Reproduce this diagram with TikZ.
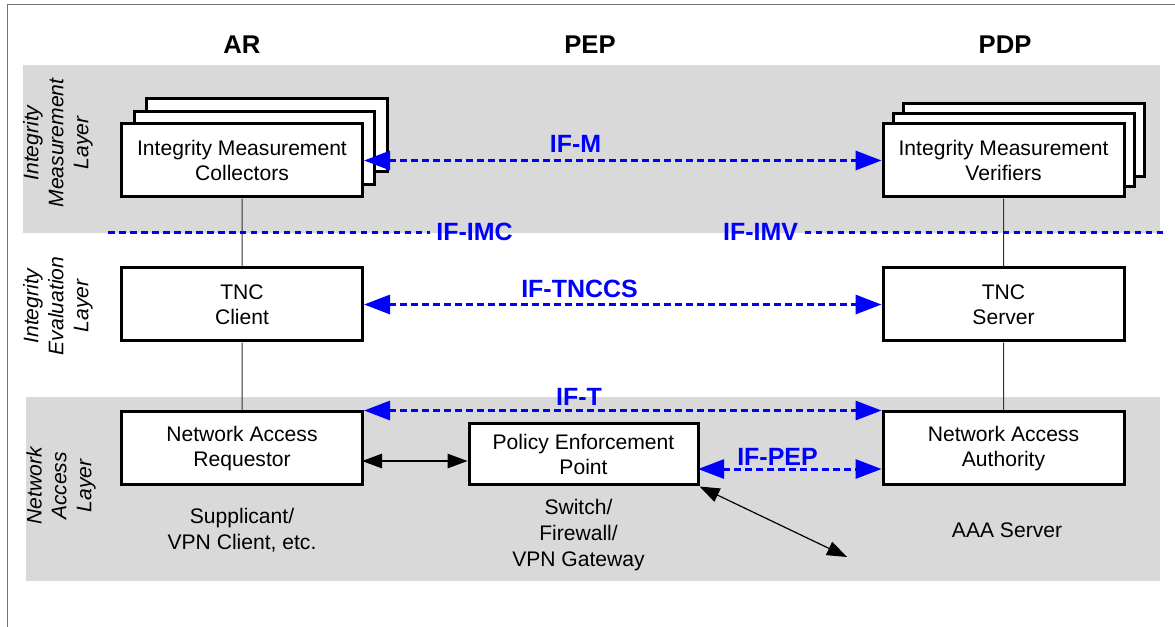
\documentclass[tikz,border=0pt]{standalone}
\usepackage{fontspec}
\setmainfont{Liberation Sans}
\usetikzlibrary{arrows.meta}

\begin{document}
\begin{tikzpicture}[scale=0.1]
                \tikzstyle{every node}+=[inner sep=0pt]
                \tikzstyle{layer}=[fill=black!15]
                \tikzstyle{box}=[draw=black, fill=white, line width=0.3mm, minimum width=24.1mm, minimum height=7.3mm, align=center, font=\fontsize{6}{7.1}\selectfont]
                \tikzstyle{head}=[font=\fontsize{7.3}{8.8}\selectfont\bfseries]
                \tikzstyle{iflabel}=[text=blue, inner sep=0.6mm, font=\fontsize{7.1}{8.5}\selectfont\bfseries]
                \tikzstyle{note}=[align=center, font=\fontsize{6}{7.4}\selectfont]
                \tikzstyle{side}=[align=center, rotate=90, font=\fontsize{6}{7.1}\selectfont\itshape]
                \tikzstyle{link}=[black!80, line width=0.1mm]
                \tikzstyle{ifline}=[blue, line width=0.3mm, dash pattern=on 0.65mm off 0.45mm]
                \tikzstyle{ifarrow}=[ifline, {Triangle[length=2.6mm,width=1.9mm]}-{Triangle[length=2.6mm,width=1.9mm]}]
                \tikzstyle{dataarrow}=[black, line width=0.12mm, {Triangle[length=2mm,width=1.45mm]}-{Triangle[length=2mm,width=1.45mm]}]
                \useasboundingbox (0,0) rectangle (117.5,-62.7);
                \fill [layer] (2.3,-6.5) rectangle (116,-23.3);
                \fill [layer] (2.6,-39.7) rectangle (116,-58.1);
                \draw [black!55, line width=0.1mm] (0.73,-62.7) -- (0.73,-0.47) -- (117.5,-0.47);
                \node [head] (ar) at (24.2,-4.5) {AR};
                \node [head] (peph) at (59,-4.5) {PEP};
                \node [head] (pdp) at (100.5,-4.5) {PDP};
                \node [side] (iml) at (5.8,-14.3) {Integrity\\Measurement\\Layer};
                \node [side] (iel) at (5.8,-30.6) {Integrity\\Evaluation\\Layer};
                \node [side] (nal) at (6.1,-48.6) {Network\\Access\\Layer};
                \node [box] (imc3) at (26.7,-13.55) {};
                \node [box] (imc2) at (25.45,-14.8) {};
                \node [box] (imc) at (24.2,-16.05) {Integrity Measurement\\Collectors};
                \node [box] (imv3) at (102.35,-14.05) {};
                \node [box] (imv2) at (101.35,-15.05) {};
                \node [box] (imv) at (100.35,-16.05) {Integrity Measurement\\Verifiers};
                \node [box] (tncc) at (24.2,-30.45) {TNC\\Client};
                \node [box] (tncs) at (100.35,-30.45) {TNC\\Server};
                \node [box] (nar) at (24.2,-44.85) {Network Access\\Requestor};
                \node [box] (naa) at (100.35,-44.85) {Network Access\\Authority};
                \node [box, minimum width=22.9mm, minimum height=6.1mm] (pep) at (58.35,-45.45) {Policy Enforcement\\Point};
                \node [note] (supp) at (24.2,-53) {Supplicant/\\VPN Client, etc.};
                \node [note] (gw) at (57.85,-53.55) {Switch/\\Firewall/\\VPN Gateway};
                \node [note] (aaa) at (100.7,-53) {AAA Server};
                \node [iflabel] (ifm) at (57.55,-14.4) {IF-M};
                \node [iflabel] (iftnccs) at (57.95,-28.85) {IF-TNCCS};
                \node [iflabel] (ift) at (57.9,-39.65) {IF-T};
                \node [iflabel] (ifpep) at (77.75,-45.65) {IF-PEP};
                \node [iflabel] (ifimc) at (47.45,-23.2) {IF-IMC};
                \node [iflabel] (ifimv) at (76.05,-23.2) {IF-IMV};
                \coordinate (imcl) at (10.8,-23.2);
                \coordinate (imvr) at (116.3,-23.2);
                \coordinate (pepr) at (69.8,-46.9);
                \coordinate (narr) at (36.2,-46.1);
                \coordinate (aaal) at (84.7,-55.7);
                \draw [link] (imc) -- (tncc);
                \draw [link] (tncc) -- (nar);
                \draw [link] (imv) -- (tncs);
                \draw [link] (tncs) -- (naa);
                \draw [ifline] (imcl) -- (ifimc.west);
                \draw [ifline] (ifimv.east) -- (imvr);
                \draw [ifarrow] (imc.east) -- (imv.west);
                \draw [ifarrow] (tncc.east) -- (tncs.west);
                \draw [ifarrow] (nar.north east) -- (naa.north west);
                \draw [ifarrow] (pepr) -- (pepr -| naa.west);
                \draw [dataarrow] (narr) -- (narr -| pep.west);
                \draw [dataarrow] (pep.south east) -- (aaal);
            \end{tikzpicture}
\end{document}
